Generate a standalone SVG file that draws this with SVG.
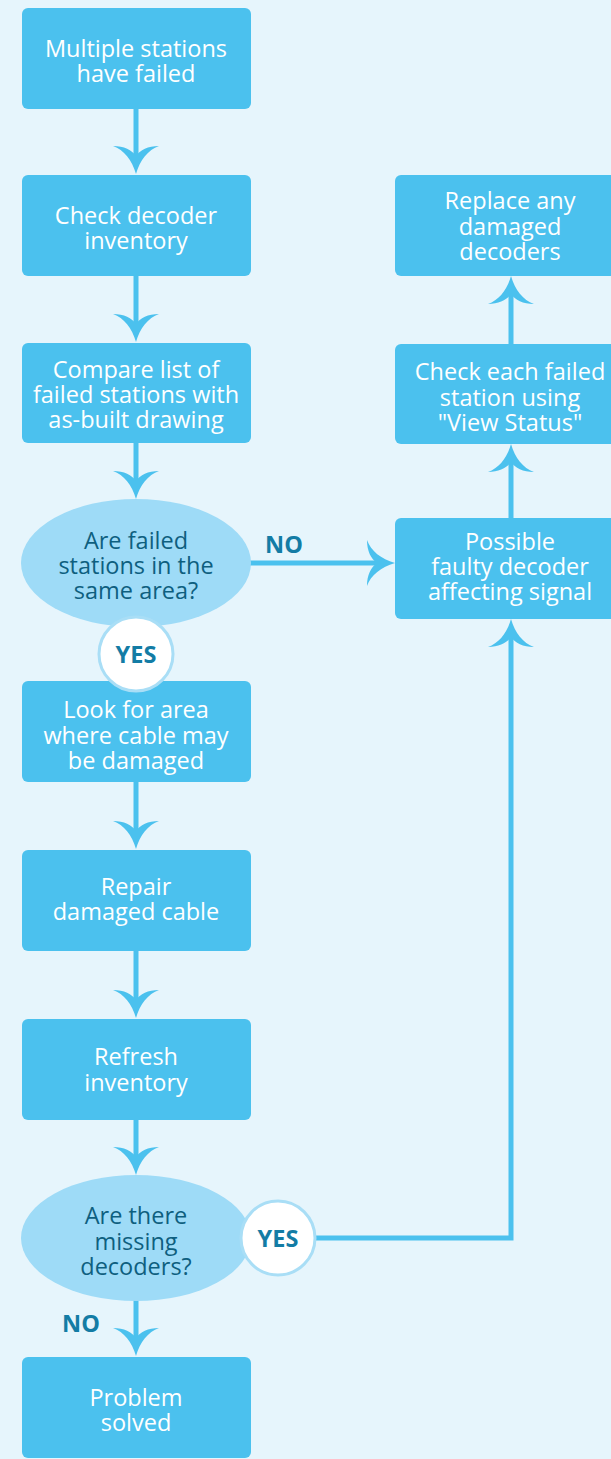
<svg xmlns="http://www.w3.org/2000/svg" width="611" height="1459" viewBox="0 0 611 1459">
<defs>
<style>
.box{fill:#4bc1ee}
.dec{fill:#9edbf7}
.bt{font-family:"Open Sans","Noto Sans",sans-serif;font-size:23.5px;fill:#ffffff;text-anchor:middle}
.dt{font-family:"Open Sans","Noto Sans",sans-serif;font-size:23.5px;fill:#0e5f7f;text-anchor:middle}
.lbl{font-family:"Open Sans","Noto Sans",sans-serif;font-size:23.5px;font-weight:bold;fill:#137ca5;text-anchor:middle}
.yc{fill:#ffffff;stroke:#a9def6;stroke-width:3}
.ln{stroke:#4bc1ee;stroke-width:5;fill:none}
.ah{fill:#4bc1ee}
</style>
<path id="ahd" d="M0,0 C-4,-14 -12,-24 -23,-28 C-12,-28 -4,-24 0,-18 C4,-24 12,-28 23,-28 C12,-24 4,-14 0,0 Z"/>
</defs>
<rect width="611" height="1459" fill="#e6f5fc"/>
<g id="connectors">
<line class="ln" x1="136" y1="109" x2="136" y2="160"/>
<use href="#ahd" class="ah" x="136" y="174"/>
<line class="ln" x1="136" y1="276" x2="136" y2="328"/>
<use href="#ahd" class="ah" x="136" y="342"/>
<line class="ln" x1="136" y1="443" x2="136" y2="485"/>
<use href="#ahd" class="ah" x="136" y="499"/>
<line class="ln" x1="136" y1="782" x2="136" y2="835"/>
<use href="#ahd" class="ah" x="136" y="849"/>
<line class="ln" x1="136" y1="951" x2="136" y2="1004"/>
<use href="#ahd" class="ah" x="136" y="1018"/>
<line class="ln" x1="136" y1="1120" x2="136" y2="1161"/>
<use href="#ahd" class="ah" x="136" y="1175"/>
<line class="ln" x1="136" y1="1300" x2="136" y2="1342"/>
<use href="#ahd" class="ah" x="136" y="1356"/>
<line class="ln" x1="250" y1="563" x2="380" y2="563"/>
<use href="#ahd" class="ah" transform="translate(395,563) rotate(-90)"/>
<polyline class="ln" points="314,1238 511,1238 511,634"/>
<use href="#ahd" class="ah" transform="translate(511,619) rotate(180)"/>
<line class="ln" x1="511" y1="518" x2="511" y2="458"/>
<use href="#ahd" class="ah" transform="translate(511,444) rotate(180)"/>
<line class="ln" x1="511" y1="344" x2="511" y2="290"/>
<use href="#ahd" class="ah" transform="translate(511,276) rotate(180)"/>
<text class="lbl" x="284" y="553">NO</text>
<text class="lbl" x="81" y="1332">NO</text>
</g>
<g id="n1"><rect class="box" x="22" y="8" width="229" height="101" rx="6"/>
<text class="bt" x="136" y="57">Multiple stations</text><text class="bt" x="136" y="82">have failed</text></g>
<g id="n2"><rect class="box" x="22" y="175" width="229" height="101" rx="6"/>
<text class="bt" x="136" y="224">Check decoder</text><text class="bt" x="136" y="249">inventory</text></g>
<g id="n3"><rect class="box" x="22" y="343" width="229" height="100" rx="6"/>
<text class="bt" x="136" y="378">Compare list of</text><text class="bt" x="136" y="403">failed stations with</text><text class="bt" x="136" y="428">as-built drawing</text></g>
<g id="d1"><ellipse class="dec" cx="136" cy="563" rx="115" ry="64"/>
<text class="dt" x="136" y="549">Are failed</text><text class="dt" x="136" y="574">stations in the</text><text class="dt" x="136" y="599">same area?</text></g>
<g id="n4"><rect class="box" x="22" y="681" width="229" height="101" rx="6"/>
<text class="bt" x="136" y="718">Look for area</text><text class="bt" x="136" y="744">where cable may</text><text class="bt" x="136" y="769">be damaged</text></g>
<g id="yes1"><circle class="yc" cx="136" cy="654" r="37"/><text class="lbl" x="136" y="663">YES</text></g>
<g id="n5"><rect class="box" x="22" y="850" width="229" height="101" rx="6"/>
<text class="bt" x="136" y="895">Repair</text><text class="bt" x="136" y="920">damaged cable</text></g>
<g id="n6"><rect class="box" x="22" y="1019" width="229" height="101" rx="6"/>
<text class="bt" x="136" y="1065">Refresh</text><text class="bt" x="136" y="1091">inventory</text></g>
<g id="d2"><ellipse class="dec" cx="136" cy="1238" rx="115" ry="63"/>
<text class="dt" x="136" y="1224">Are there</text><text class="dt" x="136" y="1250">missing</text><text class="dt" x="136" y="1275">decoders?</text></g>
<g id="yes2"><circle class="yc" cx="278" cy="1238" r="37"/><text class="lbl" x="278" y="1247">YES</text></g>
<g id="n7"><rect class="box" x="22" y="1357" width="229" height="101" rx="6"/>
<text class="bt" x="136" y="1406">Problem</text><text class="bt" x="136" y="1431">solved</text></g>
<g id="r1"><rect class="box" x="395" y="175" width="229" height="101" rx="6"/>
<text class="bt" x="510" y="209">Replace any</text><text class="bt" x="510" y="235">damaged</text><text class="bt" x="510" y="260">decoders</text></g>
<g id="r2"><rect class="box" x="395" y="344" width="229" height="100" rx="6"/>
<text class="bt" x="510" y="380">Check each failed</text><text class="bt" x="510" y="406">station using</text><text class="bt" x="510" y="431">"View Status"</text></g>
<g id="r3"><rect class="box" x="395" y="518" width="229" height="101" rx="6"/>
<text class="bt" x="510" y="550">Possible</text><text class="bt" x="510" y="575">faulty decoder</text><text class="bt" x="510" y="600">affecting signal</text></g>
</svg>
